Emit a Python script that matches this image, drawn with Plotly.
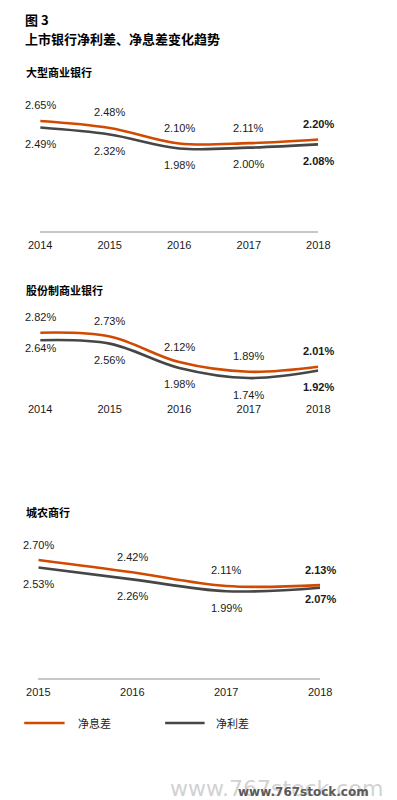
import plotly.graph_objects as go

# ---------------- data ----------------
years_big = [2014, 2015, 2016, 2017, 2018]
nim_big = [2.65, 2.48, 2.10, 2.11, 2.20]      # 净息差
nis_big = [2.49, 2.32, 1.98, 2.00, 2.08]      # 净利差

years_jsc = [2014, 2015, 2016, 2017, 2018]
nim_jsc = [2.82, 2.73, 2.12, 1.89, 2.01]
nis_jsc = [2.64, 2.56, 1.98, 1.74, 1.92]

years_rcb = [2015, 2016, 2017, 2018]
nim_rcb = [2.70, 2.42, 2.11, 2.13]
nis_rcb = [2.53, 2.26, 1.99, 2.07]

panel_titles = ["大型商业银行", "股份制商业银行", "城农商行"]
series_names = ["净息差", "净利差"]

# ---------------- style ----------------
W, H = 397, 800
ORANGE = "#D04A02"
GREY = "#464646"
TXT = "#1a1a1a"
NUM_FONT = "Liberation Sans, Arial, sans-serif"
CJK_FONT = "Noto Sans CJK SC, sans-serif"


def py(p):
    return 1 - p / H


def px(p):
    return p / W


panels = [
    dict(years=years_big, nim=nim_big, nis=nis_big, xdom=(30, 326), ydom=(100, 231),
         yrange=(-0.033, 3.162), showline=True, title_y=72, override={}),
    dict(years=years_jsc, nim=nim_jsc, nis=nis_jsc, xdom=(30, 326), ydom=(300, 396),
         yrange=(1.313, 3.599), showline=False, title_y=290, override={("nis", 0): -8}),
    dict(years=years_rcb, nim=nim_rcb, nis=nis_rcb, xdom=(28, 328), ydom=(530, 678),
         yrange=(0.018, 3.382), showline=True, title_y=512, override={("nis", 3): -11}),
]

fig = go.Figure()
annotations = []
layout_axes = {}

for i, p in enumerate(panels):
    n = i + 1
    xa = "x" if n == 1 else f"x{n}"
    ya = "y" if n == 1 else f"y{n}"
    for key, color, name in (("nim", ORANGE, series_names[0]), ("nis", GREY, series_names[1])):
        fig.add_trace(go.Scatter(
            x=p["years"], y=p[key], mode="lines", name=name, showlegend=False,
            line=dict(color=color, width=2.6, shape="spline", smoothing=1.0),
            xaxis=xa, yaxis=ya, hoverinfo="skip"))
        last = len(p["years"]) - 1
        for j, (xv, yv) in enumerate(zip(p["years"], p[key])):
            shift = 15.5 if key == "nim" else -16.5
            shift = p["override"].get((key, j), shift)
            txt = f"{yv:.2f}%"
            if j == last:
                txt = f"<b>{txt}</b>"
            annotations.append(dict(
                x=xv, y=yv, xref=xa, yref=ya, text=txt, showarrow=False,
                yshift=shift, font=dict(family=NUM_FONT, size=11, color=TXT)))
    layout_axes[f"xaxis{'' if n == 1 else n}"] = dict(
        domain=[px(p["xdom"][0]), px(p["xdom"][1])],
        range=[p["years"][0], p["years"][-1]],
        anchor=ya, tickmode="array", tickvals=p["years"],
        ticktext=[str(y) for y in p["years"]],
        showgrid=False, zeroline=False,
        showline=p["showline"], linecolor="#C8C8C8", linewidth=1.5,
        ticks="outside", ticklen=3, tickcolor="rgba(0,0,0,0)",
        tickfont=dict(family=NUM_FONT, size=11, color=TXT), fixedrange=True)
    layout_axes[f"yaxis{'' if n == 1 else n}"] = dict(
        domain=[py(p["ydom"][1]), py(p["ydom"][0])],
        range=list(p["yrange"]), anchor=xa, visible=False, fixedrange=True)
    annotations.append(dict(
        x=px(13), y=py(p["title_y"]), xref="paper", yref="paper", xanchor="left",
        yanchor="middle", text=f"<b>{panel_titles[i]}</b>", showarrow=False,
        font=dict(family=CJK_FONT, size=11, color="#000")))

# header
annotations.append(dict(x=px(12), y=py(19), xref="paper", yref="paper", xanchor="left",
                        yanchor="middle", text="<b>图 3</b>", showarrow=False,
                        font=dict(family=CJK_FONT, size=13, color="#000")))
annotations.append(dict(x=px(12), y=py(39), xref="paper", yref="paper", xanchor="left",
                        yanchor="middle", text="<b>上市银行净利差、净息差变化趋势</b>",
                        showarrow=False, font=dict(family=CJK_FONT, size=13, color="#000")))

# legend (manual)
shapes = []
for (x0, x1, tx, color, name) in ((13, 56, 68, ORANGE, series_names[0]),
                                  (163, 205, 215, GREY, series_names[1])):
    shapes.append(dict(type="line", xref="paper", yref="paper", x0=px(x0), x1=px(x1),
                       y0=py(723), y1=py(723), line=dict(color=color, width=2.6)))
    annotations.append(dict(x=px(tx), y=py(723), xref="paper", yref="paper", xanchor="left",
                            yanchor="middle", text=name, showarrow=False,
                            font=dict(family=CJK_FONT, size=11, color="#222")))

# watermark
annotations.append(dict(x=px(397), y=py(788), xref="paper", yref="paper", xanchor="right",
                        yanchor="middle", text="www.767stock.com", showarrow=False,
                        font=dict(family="DejaVu Sans", size=22, color="#D2D2D2")))
annotations.append(dict(x=px(382), y=py(792), xref="paper", yref="paper", xanchor="right",
                        yanchor="middle", text="<b>www.767stock.com</b>", showarrow=False,
                        font=dict(family="DejaVu Sans", size=12, color="#5A5A5A")))

fig.update_layout(
    width=W, height=H, margin=dict(l=0, r=0, t=0, b=0),
    paper_bgcolor="white", plot_bgcolor="white",
    showlegend=False, annotations=annotations, shapes=shapes, **layout_axes)

fig.write_html("out.html", config={"displayModeBar": False},
               post_script="document.body.style.margin='0';document.body.style.padding='0';")
